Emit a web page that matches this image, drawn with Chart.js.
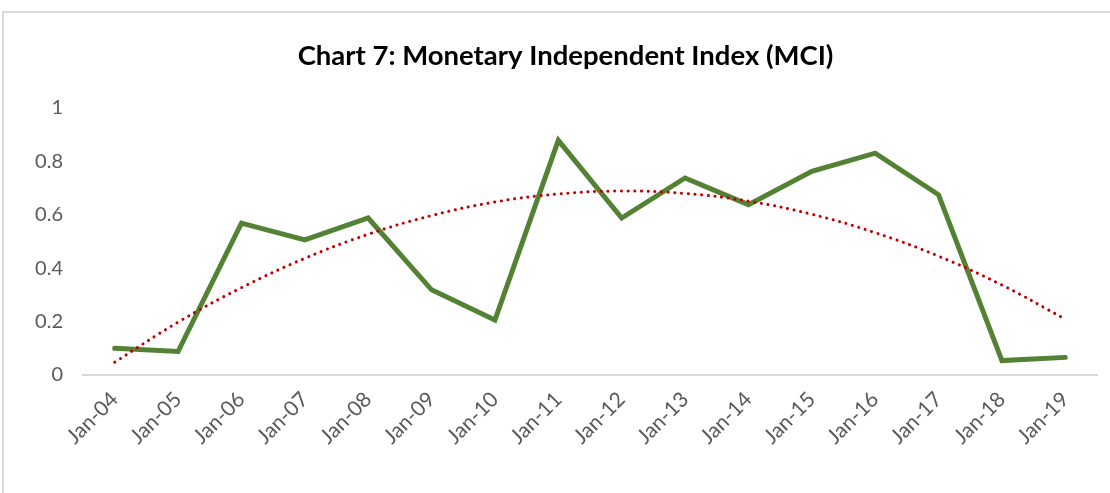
<!DOCTYPE html>
<html>
<head>
<meta charset="utf-8">
<script src="https://cdn.jsdelivr.net/npm/chart.js@4"></script>
<style>
  html, body { margin: 0; padding: 0; background: #ffffff; }
  #wrap { position: relative; width: 1110px; height: 493px; }
  #frame { position: absolute; left: 2px; top: 11px; right: 0; bottom: 0;
           border-left: 2px solid #d9d9d9; border-top: 2px solid #d9d9d9; pointer-events: none; }
</style>
</head>
<body>
<div id="wrap">
  <canvas id="c" width="1110" height="493"></canvas>
  <div id="frame"></div>
</div>
<script>
const categories = ["Jan-04","Jan-05","Jan-06","Jan-07","Jan-08","Jan-09","Jan-10","Jan-11",
                    "Jan-12","Jan-13","Jan-14","Jan-15","Jan-16","Jan-17","Jan-18","Jan-19"];
const mciValues = [0.100, 0.088, 0.569, 0.506, 0.588, 0.319, 0.206, 0.879,
                   0.588, 0.738, 0.638, 0.763, 0.831, 0.675, 0.054, 0.066];
const trendValues = [0.048, 0.198, 0.327, 0.437, 0.527, 0.597, 0.648, 0.678,
                     0.689, 0.680, 0.651, 0.602, 0.533, 0.445, 0.337, 0.209];
const yTicks = [0, 0.2, 0.4, 0.6, 0.8, 1];
const yTickLabels = ["0", "0.2", "0.4", "0.6", "0.8", "1"];
const titleText = "Chart 7: Monetary Independent Index (MCI)";

new Chart(document.getElementById('c'), {
  type: 'line',
  data: {
    labels: categories,
    datasets: [
      {
        label: 'MCI',
        data: mciValues,
        borderColor: '#548235',
        borderWidth: 5,
        pointRadius: 0,
        tension: 0,
        borderJoinStyle: 'miter',
        borderCapStyle: 'round',
        fill: false,
        order: 1
      },
      {
        label: 'Trend',
        data: trendValues,
        borderColor: '#c00000',
        borderWidth: 3,
        borderDash: [0.1, 6.6],
        borderCapStyle: 'round',
        pointRadius: 0,
        tension: 0.4,
        fill: false,
        order: 0
      }
    ]
  },
  options: {
    responsive: false,
    animation: false,
    devicePixelRatio: 1,
    layout: { padding: { left: 34, right: 13, top: 0, bottom: 0 } },
    plugins: {
      legend: { display: false },
      tooltip: { enabled: false },
      title: {
        display: true,
        text: titleText,
        color: '#000000',
        font: { family: 'Lato', size: 27.5, weight: 'bold' },
        padding: { top: 40, bottom: 35 }
      }
    },
    scales: {
      x: {
        offset: true,
        grid: { display: false, drawTicks: false },
        border: { display: true, color: '#d9d9d9', width: 2 },
        ticks: {
          autoSkip: false,
          maxRotation: 45,
          minRotation: 45,
          padding: 12,
          color: '#595959',
          font: { family: 'Lato', size: 21 }
        },
        afterFit: (s) => { s.height = 118; }
      },
      y: {
        min: 0,
        max: 1,
        afterBuildTicks: (s) => { s.ticks = yTicks.map(v => ({ value: v })); },
        grid: { display: false, drawTicks: false },
        border: { display: false },
        ticks: {
          padding: 20,
          color: '#595959',
          font: { family: 'Lato', size: 20 },
          callback: (v, i) => yTickLabels[i]
        },
        afterFit: (s) => { s.width = 49; }
      }
    }
  }
});
</script>
</body>
</html>
